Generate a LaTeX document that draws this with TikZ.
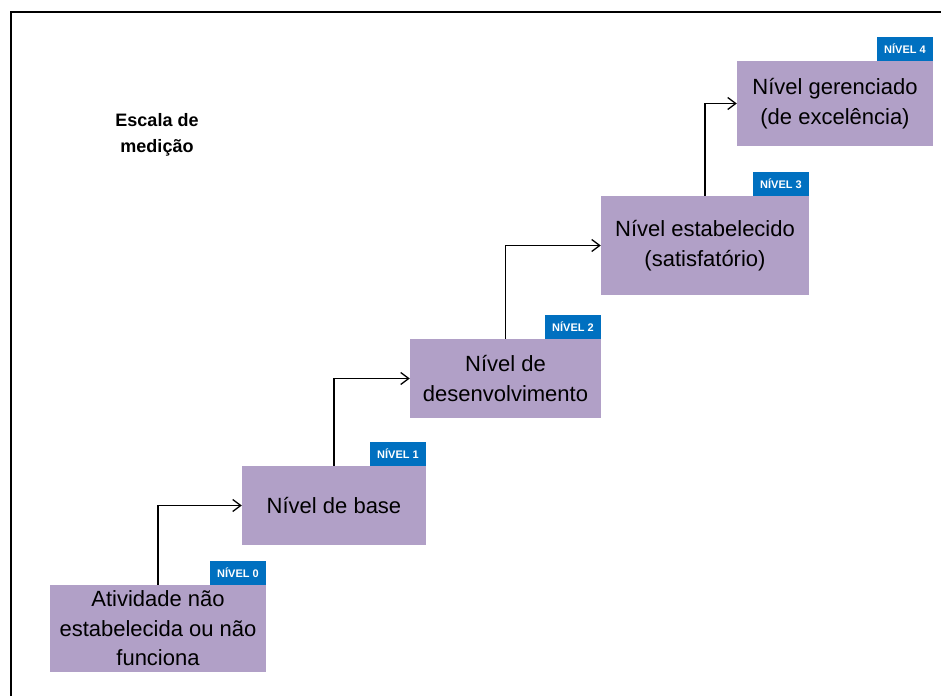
\documentclass[tikz,border=0pt]{standalone}
\usepackage{fontspec}
\setmainfont{Liberation Sans}
\usetikzlibrary{arrows.meta}
\definecolor{lilas}{HTML}{B1A0C7}
\definecolor{azul}{HTML}{0070C0}
\tikzset{
  nivel/.style={fill=lilas, align=center, inner sep=0pt,
    font=\fontsize{22}{29.5}\selectfont},
  etiqueta/.style={fill=azul, text=white, anchor=south east, inner sep=0pt,
    minimum width=56pt, minimum height=24pt, font=\fontsize{11}{12}\selectfont\bfseries},
  seta/.style={line width=1.3pt, -{Straight Barb[length=8pt,width=12pt]}}
}

\begin{document}
\begin{tikzpicture}[x=1pt,y=-1pt]
				%defs
				\def\borda{2.5pt}
				\useasboundingbox (0,0) rectangle (941,696);
				\coordinate (o) at (11,12);
				\coordinate (X) at (941,12);
				\coordinate (Y) at (11,696);
				%frame
				\draw [line width=\borda] (Y) -- (o) -- (X);
				%boxes
				\node[nivel, minimum width=216pt, minimum height=87pt] (n0) at (158,628.5) {Atividade não\\estabelecida ou não\\funciona};
				\node[nivel, minimum width=184pt, minimum height=79pt] (n1) at (334,505.5) {Nível de base};
				\node[nivel, minimum width=191pt, minimum height=79pt] (n2) at (505.5,378.5) {Nível de\\desenvolvimento};
				\node[nivel, minimum width=208pt, minimum height=99pt] (n3) at (705,245.5) {Nível estabelecido\\(satisfatório)};
				\node[nivel, minimum width=196pt, minimum height=85pt] (n4) at (835,103.5) {Nível gerenciado\\(de excelência)};
				%tags
				\node[etiqueta] (e0) at (n0.north east) {NÍVEL 0};
				\node[etiqueta] (e1) at (n1.north east) {NÍVEL 1};
				\node[etiqueta] (e2) at (n2.north east) {NÍVEL 2};
				\node[etiqueta] (e3) at (n3.north east) {NÍVEL 3};
				\node[etiqueta] (e4) at (n4.north east) {NÍVEL 4};
				%arrows
				\draw [seta] (n0.north) |- (n1.west);
				\draw [seta] (n1.north) |- (n2.west);
				\draw [seta] (n2.north) |- (n3.west);
				\draw [seta] (n3.north) |- (n4.west);
				%Labels
				\node[align=center, font=\fontsize{18}{26}\selectfont\bfseries] (escala) at (157,135) {Escala de\\medição};
			\end{tikzpicture}
\end{document}
